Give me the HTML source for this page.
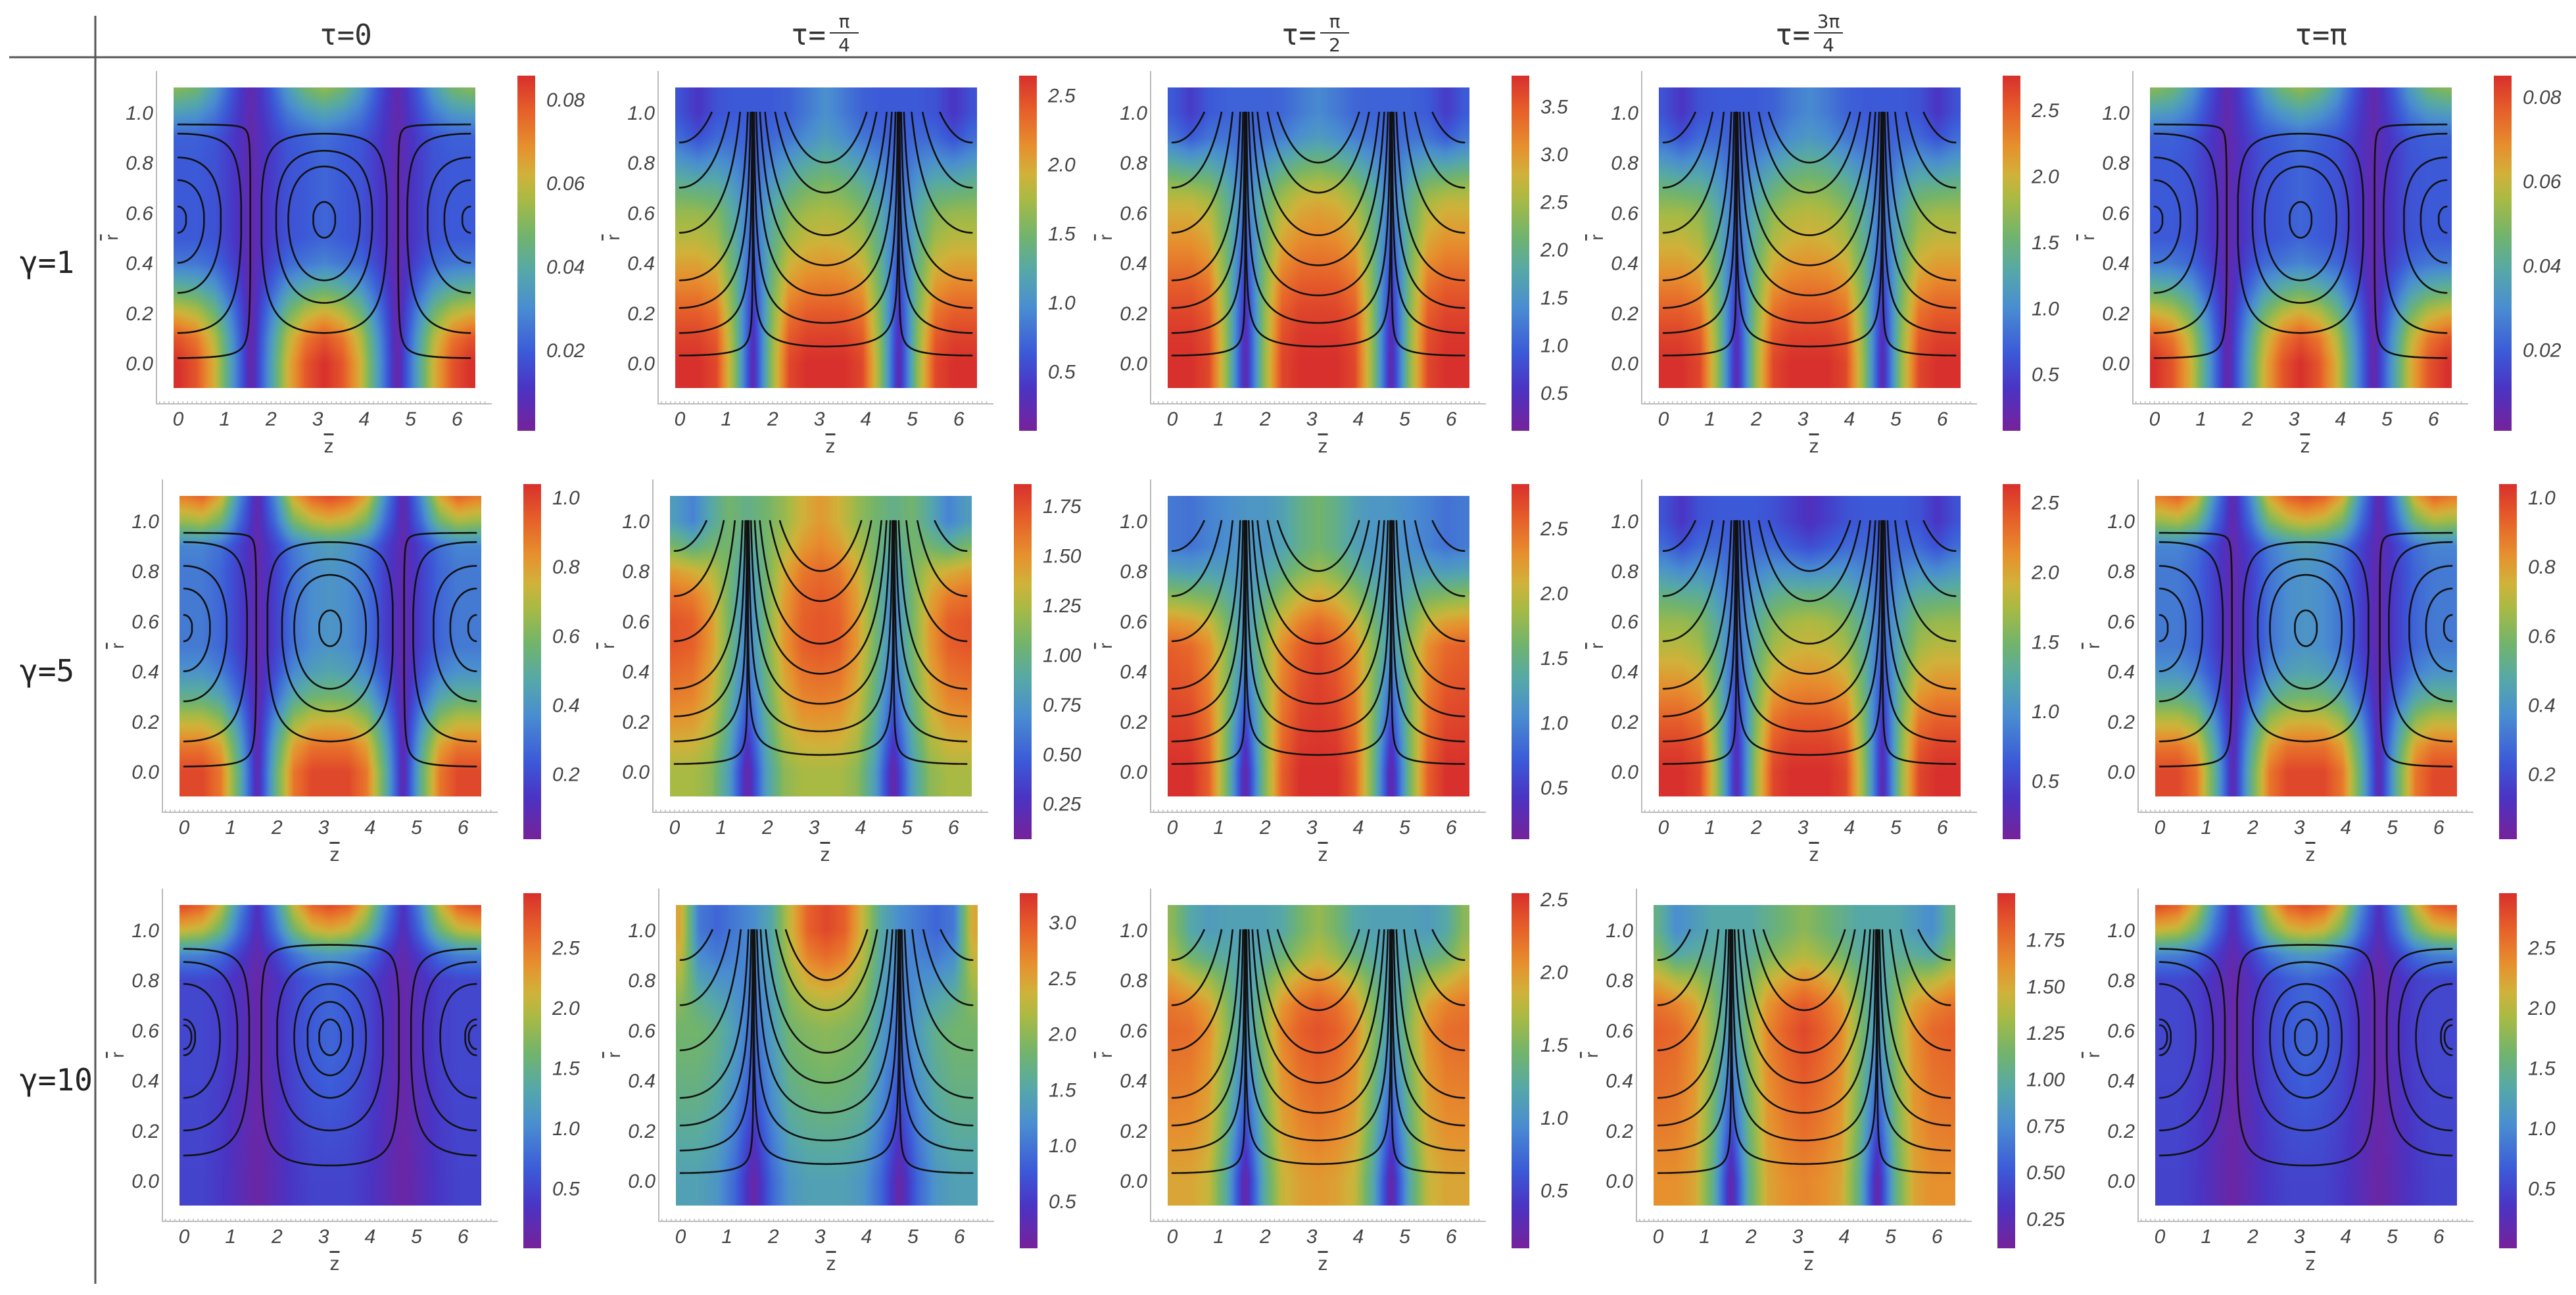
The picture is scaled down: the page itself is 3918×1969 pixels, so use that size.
<!DOCTYPE html>
<html>
<head>
<meta charset="utf-8">
<style>
html,body{margin:0;padding:0;background:#fff;}
#root{position:relative;width:3918px;height:1969px;overflow:hidden;background:#fff;}
canvas.hm{position:absolute;width:459px;height:457px;}
svg#ov{position:absolute;left:0;top:0;}
</style>
</head>
<body>
<div id="root">
<svg id="ov" width="3918" height="1969"></svg>
</div>
<script>
// ---------- DATA ----------
const cbMin = [0.0006,0.07,0.1,0.07,0.0007, 0.011,0.07,0.1,0.08,0.011, 0.0,0.075,0.1,0.09,0.0];
const cbMax = [0.0857,2.64,3.82,2.76,0.085, 1.038,1.86,2.84,2.63,1.038, 2.95,3.26,2.54,2.0,2.95];
const ticksA = [0.02,0.04,0.06,0.08];
const ticksB = [0.5,1.0,1.5,2.0,2.5];
const ticksC = [0.5,1.0,1.5,2.0,2.5,3.0,3.5];
const ticksD = [0.2,0.4,0.6,0.8,1.0];
const ticksE = [0.25,0.50,0.75,1.00,1.25,1.50,1.75];
const ticksF = [0.5,1.0,1.5,2.0,2.5,3.0];
const colTitles = ['0','π/4','π/2','3π/4','π'];
const rowTitles = ['1','5','10'];
const zTicks = [0,1,2,3,4,5,6];
const rTicks = [0.0,0.2,0.4,0.6,0.8,1.0];

const zLow_r1c1 = [1,.92,.72,.38,.03,.38,.72,.92,1,.92,.72,.38,.03,.38,.72,.92,1];
const zMid_r1c1 = [.22,.22,.2,.13,.05,.13,.2,.22,.25,.22,.2,.13,.05,.13,.2,.22,.22];
const zHigh_r1c1 = [.6,.55,.4,.2,.05,.2,.4,.55,.62,.55,.4,.2,.05,.2,.4,.55,.6];
const rBlend_r1c1 = [0,0,.1,.35,.65,.9,1,1,1,1,1.05,1.5,2];

const zLow_r1c2 = [1,1,.95,.6,.05,.6,.95,1,1,1,.95,.6,.05,.6,.95,1,1];
const zMid_r1c2 = [.62,.62,.58,.45,.25,.45,.58,.64,.66,.64,.58,.45,.25,.45,.58,.62,.62];
const zHigh_r1c2 = [.2,.12,.2,.22,.22,.22,.24,.3,.36,.3,.24,.22,.22,.22,.2,.12,.2];
const rBlend_r1c2 = [0,0,.1,.25,.45,.65,.85,1,1.25,1.55,1.85,2,2];

const zLow_r1c3 = [1,1,.95,.6,.04,.6,.95,1,1,1,.95,.6,.04,.6,.95,1,1];
const zMid_r1c3 = [.7,.7,.65,.5,.28,.5,.65,.72,.74,.72,.65,.5,.28,.5,.65,.7,.7];
const zHigh_r1c3 = [.22,.14,.22,.24,.24,.24,.25,.3,.34,.3,.25,.24,.24,.24,.22,.14,.22];
const rBlend_r1c3 = [0,0,.05,.15,.3,.5,.7,.9,1.15,1.5,1.85,2,2];

const zLow_r1c4 = [1,1,.95,.6,.05,.6,.95,1,1,1,.95,.6,.05,.6,.95,1,1];
const zMid_r1c4 = [.64,.64,.6,.46,.25,.46,.6,.66,.68,.66,.6,.46,.25,.46,.6,.64,.64];
const zHigh_r1c4 = [.2,.12,.2,.22,.22,.22,.24,.3,.34,.3,.24,.22,.22,.22,.2,.12,.2];
const rBlend_r1c4 = [0,0,.1,.25,.45,.65,.85,1,1.25,1.55,1.85,2,2];

const zLow_r1c5 = [1,.92,.72,.38,.03,.38,.72,.92,1,.92,.72,.38,.03,.38,.72,.92,1];
const zMid_r1c5 = [.22,.22,.2,.13,.05,.13,.2,.22,.25,.22,.2,.13,.05,.13,.2,.22,.22];
const zHigh_r1c5 = [.6,.55,.4,.2,.05,.2,.4,.55,.62,.55,.4,.2,.05,.2,.4,.55,.6];
const rBlend_r1c5 = [0,0,.1,.35,.65,.9,1,1,1,1,1.05,1.5,2];

const zLow_r2c1 = [.95,.95,.85,.5,.05,.5,.85,.95,.95,.95,.85,.5,.05,.5,.85,.95,.95];
const zMid_r2c1 = [.3,.3,.25,.15,.05,.15,.28,.35,.38,.35,.28,.15,.05,.15,.25,.3,.3];
const zHigh_r2c1 = [.85,.9,.75,.35,.05,.35,.75,.9,.95,.9,.75,.35,.05,.35,.75,.9,.85];
const rBlend_r2c1 = [0,0,.15,.4,.7,.9,1,1,1,1,1.05,1.6,2];

const zLow_r2c2 = [.65,.65,.6,.4,.03,.4,.6,.65,.65,.65,.6,.4,.03,.4,.6,.65,.65];
const zMid_r2c2 = [.92,.9,.78,.55,.3,.55,.78,.9,.92,.9,.78,.55,.3,.55,.78,.9,.92];
const zHigh_r2c2 = [.4,.32,.45,.55,.5,.55,.62,.72,.78,.72,.62,.55,.5,.55,.45,.32,.4];
const rBlend_r2c2 = [0,0,.25,.5,.7,.85,1,1,1.1,1.3,1.7,2,2];

const zLow_r2c3 = [1,1,.9,.55,.03,.55,.9,1,1,1,.9,.55,.03,.55,.9,1,1];
const zMid_r2c3 = [.9,.88,.8,.6,.35,.6,.8,.9,.95,.9,.8,.6,.35,.6,.8,.88,.9];
const zHigh_r2c3 = [.3,.28,.32,.35,.38,.38,.42,.5,.55,.5,.42,.38,.38,.35,.32,.28,.3];
const rBlend_r2c3 = [0,0,.2,.4,.6,.8,1,1.2,1.5,1.8,2,2,2];

const zLow_r2c4 = [1,1,.95,.6,.05,.6,.95,1,1,1,.95,.6,.05,.6,.95,1,1];
const zMid_r2c4 = [.62,.62,.58,.45,.25,.45,.58,.64,.66,.64,.58,.45,.25,.45,.58,.62,.62];
const zHigh_r2c4 = [.2,.12,.2,.22,.22,.22,.2,.15,.1,.15,.2,.22,.22,.22,.2,.12,.2];
const rBlend_r2c4 = [0,0,.1,.25,.45,.65,.85,1,1.25,1.55,1.85,2,2];

const zLow_r2c5 = [.95,.95,.85,.5,.05,.5,.85,.95,.95,.95,.85,.5,.05,.5,.85,.95,.95];
const zMid_r2c5 = [.3,.3,.25,.15,.05,.15,.28,.35,.38,.35,.28,.15,.05,.15,.25,.3,.3];
const zHigh_r2c5 = [.85,.9,.75,.35,.05,.35,.75,.9,.95,.9,.75,.35,.05,.35,.75,.9,.85];
const rBlend_r2c5 = [0,0,.15,.4,.7,.9,1,1,1,1,1.05,1.6,2];

const zLow_r3c1 = [.16,.16,.13,.08,.03,.08,.13,.16,.16,.16,.13,.08,.03,.08,.13,.16,.16];
const zMid_r3c1 = [.17,.17,.15,.1,.04,.1,.17,.22,.25,.22,.17,.1,.04,.1,.15,.17,.17];
const zHigh_r3c1 = [.95,.9,.7,.35,.1,.35,.7,.9,.95,.9,.7,.35,.1,.35,.7,.9,.95];
const rBlend_r3c1 = [0,0,.2,.4,.6,.8,1,1,1,1,1.2,1.7,2];

const zLow_r3c2 = [.42,.42,.38,.25,.03,.25,.38,.42,.42,.42,.38,.25,.03,.25,.38,.42,.42];
const zMid_r3c2 = [.55,.55,.5,.4,.25,.4,.55,.58,.6,.58,.55,.4,.25,.4,.5,.55,.55];
const zHigh_r3c2 = [.75,.3,.25,.3,.35,.45,.7,.9,.95,.9,.7,.45,.35,.3,.25,.3,.75];
const rBlend_r3c2 = [0,0,.2,.4,.6,.75,.9,1,1.2,1.5,1.8,2,2];

const zLow_r3c3 = [.75,.75,.7,.45,.03,.45,.7,.76,.78,.76,.7,.45,.03,.45,.7,.75,.75];
const zMid_r3c3 = [.88,.87,.8,.6,.35,.6,.82,.9,.93,.9,.82,.6,.35,.6,.8,.87,.88];
const zHigh_r3c3 = [.6,.45,.4,.42,.42,.42,.45,.55,.62,.55,.45,.42,.42,.42,.4,.45,.6];
const rBlend_r3c3 = [0,0,.2,.4,.55,.7,.85,1,1.1,1.4,1.8,2,2];

const zLow_r3c4 = [.8,.8,.75,.5,.03,.5,.75,.8,.82,.8,.75,.5,.03,.5,.75,.8,.8];
const zMid_r3c4 = [.9,.88,.8,.6,.35,.6,.82,.9,.95,.9,.82,.6,.35,.6,.8,.88,.9];
const zHigh_r3c4 = [.5,.35,.4,.45,.45,.45,.5,.55,.6,.55,.5,.45,.45,.45,.4,.35,.5];
const rBlend_r3c4 = [0,0,.2,.4,.55,.7,.85,1,1.1,1.4,1.8,2,2];

const zLow_r3c5 = [.16,.16,.13,.08,.03,.08,.13,.16,.16,.16,.13,.08,.03,.08,.13,.16,.16];
const zMid_r3c5 = [.17,.17,.15,.1,.04,.1,.17,.22,.25,.22,.17,.1,.04,.1,.15,.17,.17];
const zHigh_r3c5 = [.95,.9,.7,.35,.1,.35,.7,.9,.95,.9,.7,.35,.1,.35,.7,.9,.95];
const rBlend_r3c5 = [0,0,.2,.4,.6,.8,1,1,1,1,1.2,1.7,2];

const cellLevelsCenter = [0.12,0.24,0.33,0.5];
const cellLevelsEdge = [0.02,0.12,0.28,0.4,0.52];
const cellLevelsCenterG10 = [0.06,0.2,0.33,0.42,0.5];
const cellLevelsEdgeG10 = [0.1,0.2,0.33,0.5,0.62];
const fountainLevelsCenter = [0.066,0.16,0.27,0.39,0.51,0.68,0.8];
const fountainLevelsEdge = [0.03,0.12,0.22,0.33,0.52,0.7,0.88];

// ---------- LAYOUT ----------
const hmLefts = [[264,1027,1776,2523,3270],[273,1019,1776,2523,3278],[273,1028,1776,2515,3278]];
const hmTops = [133,754,1376];
const HW = 459, HH = 457, ZPX = 70.7, RPX = 381;
const panelTicks = [ticksA,ticksB,ticksC,ticksB,ticksA, ticksD,ticksE,ticksB,ticksB,ticksD, ticksB,ticksF,ticksB,ticksE,ticksB];
const tickDec = [2,1,1,1,2, 1,2,1,1,1, 1,1,1,2,1];
const profiles = {
 r1c1:[zLow_r1c1,zMid_r1c1,zHigh_r1c1,rBlend_r1c1], r1c2:[zLow_r1c2,zMid_r1c2,zHigh_r1c2,rBlend_r1c2],
 r1c3:[zLow_r1c3,zMid_r1c3,zHigh_r1c3,rBlend_r1c3], r1c4:[zLow_r1c4,zMid_r1c4,zHigh_r1c4,rBlend_r1c4],
 r1c5:[zLow_r1c5,zMid_r1c5,zHigh_r1c5,rBlend_r1c5],
 r2c1:[zLow_r2c1,zMid_r2c1,zHigh_r2c1,rBlend_r2c1], r2c2:[zLow_r2c2,zMid_r2c2,zHigh_r2c2,rBlend_r2c2],
 r2c3:[zLow_r2c3,zMid_r2c3,zHigh_r2c3,rBlend_r2c3], r2c4:[zLow_r2c4,zMid_r2c4,zHigh_r2c4,rBlend_r2c4],
 r2c5:[zLow_r2c5,zMid_r2c5,zHigh_r2c5,rBlend_r2c5],
 r3c1:[zLow_r3c1,zMid_r3c1,zHigh_r3c1,rBlend_r3c1], r3c2:[zLow_r3c2,zMid_r3c2,zHigh_r3c2,rBlend_r3c2],
 r3c3:[zLow_r3c3,zMid_r3c3,zHigh_r3c3,rBlend_r3c3], r3c4:[zLow_r3c4,zMid_r3c4,zHigh_r3c4,rBlend_r3c4],
 r3c5:[zLow_r3c5,zMid_r3c5,zHigh_r3c5,rBlend_r3c5]
};

const CM = [[0,[118,34,154]],[0.12,[74,52,196]],[0.22,[60,90,216]],[0.35,[74,142,208]],[0.45,[86,168,168]],
  [0.55,[114,180,108]],[0.65,[168,186,68]],[0.72,[208,178,58]],[0.8,[230,144,46]],[0.9,[230,96,42]],[1,[216,48,44]]];
function cmap(v){
  v=Math.max(0,Math.min(1,v));
  for(let i=1;i<CM.length;i++){ if(v<=CM[i][0]){ const a=CM[i-1],b=CM[i],t=(v-a[0])/(b[0]-a[0]);
    return [0,1,2].map(k=>Math.round(a[1][k]+(b[1][k]-a[1][k])*t)); } }
  return CM[CM.length-1][1];
}
function interpArr(arr,x){ x=Math.max(0,Math.min(arr.length-1,x)); const i=Math.min(arr.length-2,Math.floor(x)); const t=x-i; return arr[i]*(1-t)+arr[i+1]*t; }

const SVGNS='http://www.w3.org/2000/svg';
const ov=document.getElementById('ov');
const root=document.getElementById('root');
function el(tag,attrs,parent){ const e=document.createElementNS(SVGNS,tag); for(const k in attrs) e.setAttribute(k,attrs[k]); (parent||ov).appendChild(e); return e; }

const defs=el('defs',{});
const lg=el('linearGradient',{id:'cmgrad',x1:0,y1:1,x2:0,y2:0},defs);
CM.forEach(s=>{ el('stop',{offset:s[0],'stop-color':'rgb('+s[1].join(',')+')'},lg); });

const hl=el('line',{x1:14,y1:87,x2:3918,y2:87,stroke:'#555','stroke-width':3});
 
const vl=el('line',{x1:145,y1:24,x2:145,y2:1952,stroke:'#555','stroke-width':3});
 

const titleX=[526,1278,2024,2775,3530];
colTitles.forEach((t,c)=>{
  const g=el('g',{});
   
  if(t.indexOf('/')<0){
    const tx=el('text',{x:titleX[c],y:68,'text-anchor':'middle','font-family':'"DejaVu Sans Mono","Liberation Mono",monospace','font-size':44,fill:'#333'},g);
    tx.textContent='τ='+t;
  } else {
    const [num,den]=t.split('/');
    const tx=el('text',{x:titleX[c]-22,y:68,'text-anchor':'end','font-family':'"DejaVu Sans Mono","Liberation Mono",monospace','font-size':44,fill:'#333'},g);
    tx.textContent='τ=';
    const n=el('text',{x:titleX[c]+6,y:42,'text-anchor':'middle','font-family':'"DejaVu Sans","Liberation Sans",sans-serif','font-size':28,fill:'#333'},g); n.textContent=num;
    el('line',{x1:titleX[c]-16,y1:50,x2:titleX[c]+28,y2:50,stroke:'#333','stroke-width':2},g);
    const d=el('text',{x:titleX[c]+6,y:78,'text-anchor':'middle','font-family':'"DejaVu Sans","Liberation Sans",sans-serif','font-size':28,fill:'#333'},g); d.textContent=den;
  }
});
rowTitles.forEach((t,r)=>{
  const tx=el('text',{x:30,y:hmTops[r]+282,'font-family':'"DejaVu Sans Mono","Liberation Mono",monospace','font-size':46,fill:'#222'});
  tx.textContent='γ='+t;
   
});

function gCell(r){ return Math.pow(Math.max(r,0),1.5)*Math.max(0.955-r,0); }
const RPK=1.5/2.5*0.955, GMAX=gCell(RPK);
function bisect(f,a,b){ let fa=f(a); for(let i=0;i<40;i++){ const m=(a+b)/2, fm=f(m); if((fm>0)===(fa>0)){a=m;fa=fm;} else b=m; } return (a+b)/2; }

for(let r=0;r<3;r++){
  for(let c=0;c<5;c++){
    const id='r'+(r+1)+'c'+(c+1), idx=r*5+c;
    const L=hmLefts[r][c], T=hmTops[r];
    const X=z=>L+7+z*ZPX, Y=rv=>T+419-rv*RPX;
    const [pL,pM,pH,pB]=profiles[id];
    const cv=document.createElement('canvas'); cv.width=128; cv.height=128; cv.className='hm';
    cv.style.left=L+'px'; cv.style.top=T+'px';
     
    root.insertBefore(cv,ov);
    const ctx=cv.getContext('2d'); const im=ctx.createImageData(128,128);
    for(let j=0;j<128;j++){ for(let i=0;i<128;i++){
      const px=(i+0.5)/128*HW, py=(j+0.5)/128*HH;
      let z=(px-7)/ZPX; z=Math.max(0,Math.min(2*Math.PI,z));
      const rv=(419-py)/RPX;
      const zi=z/(2*Math.PI)*16;
      const b=interpArr(pB,(rv+0.1)/0.1);
      const lo=interpArr(pL,zi), mi=interpArr(pM,zi), hi=interpArr(pH,zi);
      const v=b<=1? lo*(1-b)+mi*b : mi*(2-b)+hi*(b-1);
      const col=cmap(v); const o=(j*128+i)*4;
      im.data[o]=col[0];im.data[o+1]=col[1];im.data[o+2]=col[2];im.data[o+3]=255;
    }}
    ctx.putImageData(im,0,0);

    const g=el('g',{});
     
    const ax=el('path',{d:`M${L-26},${T-25}V${T+481}H${L+484}`,fill:'none',stroke:'#bbb','stroke-width':2},g);
     
    let mt='';
    for(let k=-0.4;k<=6.6;k+=0.1){ const x=X(k); if(x>L-26&&x<L+484) mt+=`M${x.toFixed(1)},${T+481}v-4`; }
    el('path',{d:mt,stroke:'#bbb','stroke-width':1.5},g);
    zTicks.forEach(v=>{ const t=el('text',{x:X(v),y:T+514,'text-anchor':'middle','font-family':'"Liberation Sans",sans-serif','font-style':'italic','font-size':30,fill:'#444'},g); t.textContent=v;
        });
    rTicks.forEach(v=>{ const t=el('text',{x:L-31,y:Y(v)+11,'text-anchor':'end','font-family':'"Liberation Sans",sans-serif','font-style':'italic','font-size':30,fill:'#444'},g); t.textContent=v.toFixed(1);
        });
    const xt=el('text',{x:L+236,y:T+555,'text-anchor':'middle','font-family':'"Liberation Sans",sans-serif','font-size':30,fill:'#444','text-decoration':'overline'},g); xt.textContent='z';
     
    const yt=el('text',{x:0,y:0,transform:`translate(${L-85},${T+228}) rotate(-90)`,'text-anchor':'middle','font-family':'"Liberation Sans",sans-serif','font-size':28,fill:'#444','text-decoration':'overline'},g); yt.textContent='r';
     

    const sg=el('g',{fill:'none',stroke:'#111','stroke-width':2.6,'stroke-linecap':'round'},g);
     
    const isCell=(c===0||c===4);
    const centers=[0,Math.PI,2*Math.PI];
    if(isCell){
      centers.forEach(z0=>{
        const levels = z0===Math.PI ? (r===2?cellLevelsCenterG10:cellLevelsCenter) : (r===2?cellLevelsEdgeG10:cellLevelsEdge);
        levels.forEach(rb=>{
          const cl=gCell(rb);
          const lo=[],hi=[];
          const za=Math.max(0,z0-Math.PI/2), zb=Math.min(2*Math.PI,z0+Math.PI/2);
          for(let s=0;s<=240;s++){
            const z=za+(zb-za)*s/240; const cz=Math.abs(Math.cos(z));
            if(cz<1e-6) continue; const q=cl/cz; if(q>GMAX) continue;
            const r1=bisect(x=>gCell(x)-q,0,RPK), r2=bisect(x=>gCell(x)-q,RPK,0.955);
            lo.push([X(z),Y(r1)]); hi.push([X(z),Y(r2)]);
          }
          if(lo.length<2) return;
          let pts, closed=false;
          if(z0===Math.PI){ pts=lo.concat(hi.slice().reverse()); closed=true; }
          else if(z0===0){ pts=lo.concat(hi.slice().reverse()); }
          else { pts=lo.slice().reverse().concat(hi); }
          const p=el('path',{d:'M'+pts.map(p=>p[0].toFixed(1)+','+p[1].toFixed(1)).join('L')+(closed?'Z':'')},sg);
           
        });
      });
    } else {
      centers.forEach(z0=>{
        const levels = z0===Math.PI ? fountainLevelsCenter : fountainLevelsEdge;
        levels.forEach(r0=>{
          const half=Math.acos(Math.min(1,r0*r0));
          const za=Math.max(0,z0-half), zb=Math.min(2*Math.PI,z0+half);
          const pts=[];
          for(let s=0;s<=240;s++){
            const t=s/240; const u=-1+2*t;
            const z=(za+zb)/2+(zb-za)/2*Math.sin(u*Math.PI/2);
            const cz=Math.abs(Math.cos(z)); if(cz<1e-9) continue;
            let rv=r0/Math.sqrt(cz); if(rv>1) rv=1;
            pts.push([X(z),Y(rv)]);
          }
          const p=el('path',{d:'M'+pts.map(p=>p[0].toFixed(1)+','+p[1].toFixed(1)).join('L')},sg);
           
        });
      });
    }

    const cbL=L+523, cbT=T-18, cbH=540;
    const cb=el('rect',{x:cbL,y:cbT,width:27,height:cbH,fill:'url(#cmgrad)'},g);
     
    panelTicks[idx].forEach(v=>{
      const y=cbT+cbH-(v-cbMin[idx])/(cbMax[idx]-cbMin[idx])*cbH;
      const t=el('text',{x:cbL+44,y:y+11,'font-family':'"Liberation Sans",sans-serif','font-style':'italic','font-size':30,fill:'#444'},g);
      t.textContent=v.toFixed(tickDec[idx]);
       
    });
  }
}
</script>
</body>
</html>
